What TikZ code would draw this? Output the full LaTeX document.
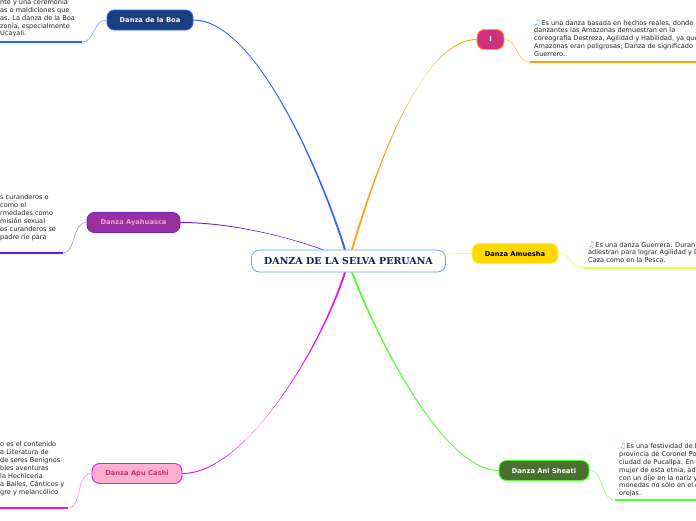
\documentclass[tikz,border=0pt]{standalone}
\usepackage{fontspec}
\setmainfont{DejaVu Sans}
\newfontfamily\titlefont{DejaVu Serif}
\usetikzlibrary{positioning,arrows.meta,calc}
\definecolor{boafill}{HTML}{1B3F7E}
\definecolor{boaline}{HTML}{2962FF}
\definecolor{ayafill}{HTML}{9C2F9E}
\definecolor{ayaline}{HTML}{6A1FE0}
\definecolor{ayatext}{HTML}{EDA0E0}
\definecolor{apufill}{HTML}{FFB0D0}
\definecolor{apuline}{HTML}{F010E8}
\definecolor{aputext}{HTML}{C83070}
\definecolor{ifill}{HTML}{D0307F}
\definecolor{iline}{HTML}{FFA010}
\definecolor{amufill}{HTML}{FFD800}
\definecolor{amuline}{HTML}{E0FF40}
\definecolor{anifill}{HTML}{4A7030}
\definecolor{aniline}{HTML}{50FF30}
\definecolor{rootline}{HTML}{5AA9DC}
\definecolor{roottext}{HTML}{10204F}
\definecolor{notecol}{HTML}{6DB6E8}
\definecolor{bodytext}{HTML}{222222}
\newcommand{\notemark}{{\color{notecol}\fontsize{8}{8}\selectfont ♫}}
% tapered branch: colour, root point, first control, second control, branch node anchor
\newcommand{\branch}[5]{\fill[#1] ([xshift=-1pt]#2) .. controls ([xshift=-0.8pt]#3) and ([yshift=-0.5pt]#4) .. ([yshift=-0.5pt]#5)
  -- ([yshift=0.5pt]#5) .. controls ([yshift=0.5pt]#4) and ([xshift=0.8pt]#3) .. ([xshift=1pt]#2) -- cycle;}
\begin{document}
\begin{tikzpicture}[
  x=1pt, y=-1pt,
  box/.style={draw, line width=0.9pt, rounded corners=7.5pt, align=center, inner sep=0pt,
    minimum height=20pt, font=\fontsize{6.7}{7.5}\selectfont\bfseries},
  note/.style={anchor=north west, align=left, inner sep=0pt, text=bodytext,
    font=\fontsize{6.55}{7.95}\selectfont},
  twig/.style={line width=0.6pt},
  under/.style={line width=1.3pt}
]
\clip (0,0) rectangle (696,520);
\node[draw=rootline, line width=0.8pt, fill=white, rounded corners=8pt, minimum width=194pt, minimum height=22pt,
  inner sep=0pt, text=roottext, font=\fontsize{9.5}{10}\selectfont\titlefont\bfseries] (root) at (348.5,261) {DANZA DE LA SELVA PERUANA};
\node[box, fill=boafill, draw=boaline, text=white, minimum width=86pt] (boa) at (150,20) {Danza de la Boa};
\node[box, fill=ayafill, draw=ayaline, text=ayatext, minimum width=93pt] (aya) at (133.5,222.5) {Danza Ayahuasca};
\node[box, fill=apufill, draw=apuline, text=aputext, minimum width=90pt] (apu) at (137,473.5) {Danza Apu Cashi};
\node[box, fill=ifill, draw=iline, text=white, minimum width=27pt] (itag) at (490.5,39.5) {I};
\node[box, fill=amufill, draw=amuline, text=black, minimum width=86pt] (amu) at (515,253.5) {Danza Amuesha};
\node[box, fill=anifill, draw=aniline, text=white, minimum width=90pt] (ani) at (544,470.5) {Danza Ani Sheati};

% left side text
\node[note] (boatext) at (0,-1) {nte y una ceremonia\\as o maldiciones que\\as. La danza de la Boa\\zonía, especialmente\\Ucayali.};
\node[note] (ayatxt) at (0,194.5) {s curanderos o\\como el\\rmedades como\\misión sexual\\os curanderos se\\padre río para};
\node[note] (aputxt) at (0,441.7) {o es el contenido\\a Literatura de\\de seres Benignos\\bles aventuras\\la Hechicería\\a Bailes, Cánticos y\\gre y melancólico};
% right side text
\node[note] (itxt) at (534,19) {\notemark Es una danza basada en hechos reales, donde\\danzantes las Amazonas demuestran en la\\coreografía Destreza, Agilidad y Habilidad, ya que\\Amazonas eran peligrosas; Danza de significado\\Guerrero.};
\node[note] (amutxt) at (588,241) {\notemark Es una danza Guerrera. Duran\\adiestran para lograr Agilidad y D\\Caza como en la Pesca.};
\node[note] (anitxt) at (619,442.2) {\notemark Es una festividad de l\\provincia de Coronel Po\\ciudad de Pucallpa. En l\\mujer de esta etnia, ad\\con un dije en la nariz y\\monedas no sólo en el c\\orejas.};

\coordinate (boaend) at (0,42);
\coordinate (boaknee) at (82,42);
\coordinate (ayaend) at (0,253);
\coordinate (ayaknee) at (63,253);
\coordinate (apuend) at (0,508);
\coordinate (apuknee) at (68,508);
\coordinate (iend) at (696,62);
\coordinate (iknee) at (530,62);
\coordinate (amuend) at (696,268);
\coordinate (amuknee) at (584,268);
\coordinate (aniend) at (696,500);
\coordinate (aniknee) at (615,500);

% main branches
\branch{boaline}{$(root.north)+(-3.5,0)$}{320,170}{255,20}{boa.east}
\branch{ayaline}{$(root.north)+(-26,0)$}{285,236}{230,222.5}{aya.east}
\branch{apuline}{$(root.south)+(-3.5,0)$}{320,350}{245,473.5}{apu.east}
\branch{iline}{$(root.north)+(3.5,0)$}{374,175}{420,39.5}{itag.west}
\draw[twig, amuline] ([xshift=-1.5pt,yshift=7pt]root.east) -- (amu.west);
\branch{aniline}{$(root.south)+(3.5,0)$}{380,345}{445,470.5}{ani.west}

% twigs and underlines
\draw[twig, boaline!60] (boa.west) .. controls (93,20) and (95,42) .. (boaknee);
\draw[under, boaline] (boaknee) -- (boaend);
\draw[twig, ayaline!50] (aya.west) .. controls (72,222) and (76,253) .. (ayaknee);
\draw[under, ayaline] (ayaknee) -- (ayaend);
\draw[twig, apuline!50] (apu.west) .. controls (76,473) and (82,508) .. (apuknee);
\draw[under, apuline] (apuknee) -- (apuend);
\draw[twig, iline!70] (itag.east) .. controls (518,40) and (516,62) .. (iknee);
\draw[under, iline] (iknee) -- (iend);
\draw[twig, amuline] (amu.east) .. controls (572,253) and (570,268) .. (amuknee);
\draw[under, amuline] (amuknee) -- (amuend);
\draw[twig, aniline!70] (ani.east) .. controls (604,470) and (600,500) .. (aniknee);
\draw[under, aniline] (aniknee) -- (aniend);
\end{tikzpicture}
\end{document}
